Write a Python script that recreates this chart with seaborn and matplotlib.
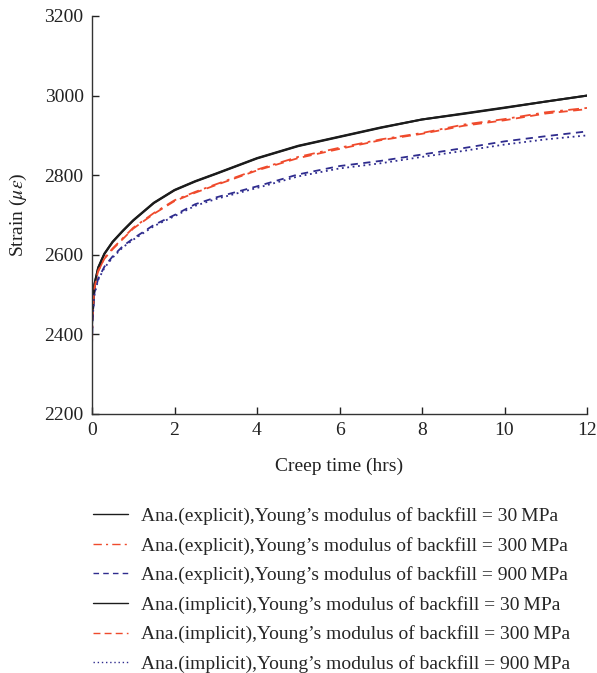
import matplotlib
matplotlib.use("Agg")
import matplotlib.pyplot as plt
import seaborn as sns
import pandas as pd

sns.set_style("ticks")
plt.rcParams['font.family'] = ['Liberation Serif', 'DejaVu Serif']
plt.rcParams['mathtext.fontset'] = 'stix'

# ---- data ----
time_hrs = [0, 0.02, 0.06, 0.15, 0.3, 0.5, 0.75, 1, 1.5, 2, 2.5, 3, 4, 5, 6, 7, 8, 9, 10, 11, 12]

exp_30 = [2425, 2462, 2525, 2567, 2602, 2632, 2660, 2686, 2730, 2762, 2784, 2803, 2842, 2873, 2896, 2919, 2940, 2954, 2969, 2985, 3000]
exp_300 = [2375, 2458, 2515, 2558, 2592, 2616, 2642, 2668, 2705, 2737, 2758, 2777, 2814, 2846, 2869, 2890, 2906, 2927, 2941, 2958, 2969]
exp_900 = [2370, 2450, 2505, 2540, 2570, 2596, 2622, 2641, 2675, 2700, 2727, 2744, 2772, 2802, 2823, 2836, 2852, 2868, 2885, 2898, 2910]
imp_30 = [2455, 2465, 2527, 2568, 2603, 2633, 2661, 2687, 2731, 2763, 2785, 2804, 2843, 2874, 2897, 2920, 2940, 2955, 2970, 2985, 3000]
imp_300 = [2440, 2460, 2517, 2560, 2590, 2614, 2640, 2666, 2703, 2735, 2756, 2775, 2812, 2843, 2866, 2888, 2904, 2924, 2938, 2955, 2966]
imp_900 = [2430, 2447, 2501, 2537, 2567, 2593, 2619, 2638, 2672, 2697, 2723, 2740, 2768, 2797, 2817, 2830, 2846, 2861, 2877, 2890, 2900]

labels = [
    "Ana.(explicit),Young\u2019s modulus of backfill = 30\u2009MPa",
    "Ana.(explicit),Young\u2019s modulus of backfill = 300\u2009MPa",
    "Ana.(explicit),Young\u2019s modulus of backfill = 900\u2009MPa",
    "Ana.(implicit),Young\u2019s modulus of backfill = 30\u2009MPa",
    "Ana.(implicit),Young\u2019s modulus of backfill = 300\u2009MPa",
    "Ana.(implicit),Young\u2019s modulus of backfill = 900\u2009MPa",
]
series = [exp_30, exp_300, exp_900, imp_30, imp_300, imp_900]

x_ticks = [0, 2, 4, 6, 8, 10, 12]
y_ticks = [2200, 2400, 2600, 2800, 3000, 3200]

# ---- styles ----
black = "#1c1c1c"
red = "#ef4a2c"
blue = "#2f2c8e"
colors = [black, red, blue, black, red, blue]
styles = ["-", (0, (6, 3, 1.5, 3)), (0, (4, 3)), "-", (0, (5, 3)), (0, (1, 2))]
widths = [1.5, 1.3, 1.3, 1.5, 1.3, 1.3]

fig = plt.figure(figsize=(5.97, 6.73), dpi=100)
ax = fig.add_axes([92 / 597, 1 - 414 / 673, (587 - 92) / 597, (414 - 16) / 673])

for vals, lab, c, ls, lw in zip(series, labels, colors, styles, widths):
    df = pd.DataFrame({"t": time_hrs, "v": vals})
    sns.lineplot(data=df, x="t", y="v", ax=ax, color=c, linestyle=ls, linewidth=lw, label=lab)

ax.set_xlim(0, 12)
ax.set_ylim(2200, 3200)
ax.set_xticks(x_ticks)
ax.set_yticks(y_ticks)
ax.tick_params(direction="in", length=5, width=1, labelsize=14, colors="#222222", pad=6)
for s in ["top", "right"]:
    ax.spines[s].set_visible(False)
for s in ["left", "bottom"]:
    ax.spines[s].set_color("#333333")
    ax.spines[s].set_linewidth(1)

ax.set_xlabel("Creep time (hrs)", fontsize=14, color="#222222", labelpad=13)
ax.set_ylabel(r"Strain ($\mu\varepsilon$)", fontsize=14, color="#222222", labelpad=11)

leg = ax.legend(loc="upper left", bbox_to_anchor=(0.002, -0.234), frameon=False, fontsize=14,
                handlelength=1.8, handletextpad=0.68, labelspacing=0.6, borderaxespad=0, borderpad=0)
for line in leg.get_lines():
    line.set_linewidth(1.0)

fig.savefig("out.png", dpi=100)
